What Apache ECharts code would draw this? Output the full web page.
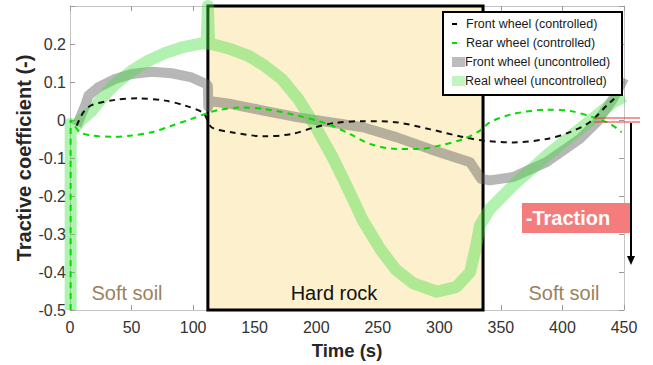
<!DOCTYPE html>
<html>
<head>
<meta charset="utf-8">
<script src="https://cdn.jsdelivr.net/npm/echarts@6/dist/echarts.min.js"></script>
<style>
  html, body { margin: 0; padding: 0; background: #fff; }
  #chart { width: 653px; height: 365px; }
</style>
</head>
<body>
<div id="chart"></div>
<script>
// Time ticks and tractive-coefficient ticks
const timeTicks = [0, 50, 100, 150, 200, 250, 300, 350, 400, 450];
const coeffTicks = [-0.5, -0.4, -0.3, -0.2, -0.1, 0, 0.1, 0.2];

// Terrain segments along the time axis (s)
const terrainNames = ['Soft soil', 'Hard rock', 'Soft soil'];
const hardRockSpan = [112, 335.5];

// Front wheel, controlled
const frontCtrlT = [5.4, 10.8, 17.6, 36.6, 55.5, 77.2, 93.4, 108.3, 115, 131, 158, 180, 199, 215, 238, 265, 292, 319.5, 335.7, 360, 387, 406, 422, 436, 442];
const frontCtrlV = [-0.015, 0.02, 0.039, 0.053, 0.057, 0.051, 0.038, 0.018, -0.019, -0.032, -0.043, -0.037, -0.019, -0.008, -0.003, -0.006, -0.024, -0.045, -0.054, -0.059, -0.05, -0.032, -0.006, 0.038, 0.056];

// Rear wheel, controlled
const rearCtrlT = [0.5, 0.5, 3, 8.1, 17.6, 33.8, 50, 66.4, 82.6, 98.8, 109.7, 120.5, 139.5, 158, 185.5, 209, 227.5, 243.7, 265, 284, 300.6, 319.5, 333, 341, 360, 387, 406, 425, 438.7, 448];
const rearCtrlV = [-0.5, 0, -0.012, -0.032, -0.041, -0.044, -0.041, -0.032, -0.015, 0.003, 0.016, 0.026, 0.033, 0.029, 0.011, -0.01, -0.037, -0.063, -0.076, -0.076, -0.067, -0.05, -0.028, -0.006, 0.016, 0.027, 0.024, 0.007, -0.01, -0.032];

// Front wheel, uncontrolled
const frontFreeT = [5.4, 12.2, 14.9, 23, 36.6, 50, 66.4, 82.6, 98.8, 111, 112, 112.3, 113, 131, 158, 185.5, 211, 238, 265, 292, 325, 327.6, 334, 341, 360, 387, 414, 428, 441, 450];
const frontFreeV = [-0.015, 0.037, 0.064, 0.086, 0.108, 0.121, 0.127, 0.123, 0.112, 0.094, 0.09, 0.035, 0.05, 0.042, 0.024, 0.007, -0.006, -0.019, -0.045, -0.076, -0.111, -0.124, -0.155, -0.159, -0.15, -0.111, -0.05, -0.006, 0.055, 0.11];

// Rear wheel, uncontrolled
const rearFreeT = [0.5, 0.5, 4, 9, 17, 23, 30, 36.6, 50, 63.6, 77, 91, 104, 111, 112, 113, 115, 131, 145, 158, 172, 185.5, 199, 212.6, 223.4, 238, 252, 265, 279, 298, 314, 325, 330, 333, 341, 360, 387, 414, 441, 450];
const rearFreeV = [-0.5, -0.01, -0.02, 0.0, 0.022, 0.046, 0.072, 0.094, 0.129, 0.156, 0.176, 0.191, 0.2, 0.202, 0.3, 0.2, 0.2, 0.186, 0.169, 0.143, 0.108, 0.055, -0.015, -0.094, -0.165, -0.265, -0.34, -0.395, -0.43, -0.452, -0.439, -0.4, -0.33, -0.277, -0.234, -0.172, -0.094, -0.024, 0.046, 0.062];

const legendNames = ['Front wheel (controlled)', 'Rear wheel (controlled)', 'Front wheel (uncontrolled)', 'Real wheel (uncontrolled)'];

function pairs(t, v) { return t.map((x, i) => [x, v[i]]); }

const FONT = 'Arial, "Liberation Sans", sans-serif';
const AXIS_GRAY = '#c4c4c4';

const chart = echarts.init(document.getElementById('chart'), null, { renderer: 'svg' });

const baseX = {
  type: 'value', min: timeTicks[0], max: timeTicks[timeTicks.length - 1],
  interval: timeTicks[1] - timeTicks[0],
  axisLine: { show: true, onZero: false, lineStyle: { color: AXIS_GRAY, width: 1 } },
  axisTick: { show: true, inside: true, length: 5, lineStyle: { color: '#9a9a9a' } },
  splitLine: { show: false }
};
const baseY = {
  type: 'value', min: coeffTicks[0], max: 0.3, interval: 0.1,
  axisLine: { show: true, onZero: false, lineStyle: { color: AXIS_GRAY, width: 1 } },
  axisTick: { show: true, inside: true, length: 5, lineStyle: { color: '#9a9a9a' } },
  splitLine: { show: false }
};

const option = {
  animation: false,
  backgroundColor: '#fff',
  grid: { left: 70, right: 29, top: 6, bottom: 55, containLabel: false },
  xAxis: [
    Object.assign({}, baseX, {
      position: 'bottom',
      axisLabel: { show: true, fontSize: 16, color: '#333', fontFamily: FONT, margin: 9 },
      name: 'Time (s)', nameLocation: 'middle', nameGap: 31, nameMoveOverlap: false,
      nameTextStyle: { fontSize: 18.5, fontWeight: 'bold', color: '#262626', fontFamily: FONT }
    }),
    Object.assign({}, baseX, { position: 'top', axisLabel: { show: false } })
  ],
  yAxis: [
    Object.assign({}, baseY, {
      position: 'left',
      axisLabel: {
        show: true, fontSize: 16, color: '#333', fontFamily: FONT, margin: 4,
        formatter: v => (v > 0.25 ? '' : String(Math.round(v * 10) / 10))
      },
      name: 'Tractive coefficient (-)', nameLocation: 'middle', nameGap: 36, nameMoveOverlap: false,
      nameTextStyle: { fontSize: 20, fontWeight: 'bold', color: '#262626', fontFamily: FONT }
    }),
    Object.assign({}, baseY, { position: 'right', axisLabel: { show: false } })
  ],
  series: [
    {
      // hard rock segment drawn beneath the curves
      type: 'line', data: [], z: 1, silent: true,
      markArea: {
        silent: true,
        itemStyle: { color: '#fdf0cd', borderColor: '#000', borderWidth: 3 },
        data: [[{ xAxis: hardRockSpan[0], yAxis: 0.3 }, { xAxis: hardRockSpan[1], yAxis: coeffTicks[0] }]]
      }
    },
    {
      name: legendNames[2], type: 'line', z: 3, data: pairs(frontFreeT, frontFreeV),
      showSymbol: false, smooth: false,
      lineStyle: { color: 'rgba(95,95,95,0.45)', width: 10, join: 'round' }
    },
    {
      name: legendNames[3], type: 'line', z: 3, data: pairs(rearFreeT, rearFreeV),
      showSymbol: false, smooth: false,
      lineStyle: { color: 'rgba(70,225,70,0.42)', width: 12, join: 'round' }
    },
    {
      name: legendNames[0], type: 'line', z: 4, data: pairs(frontCtrlT, frontCtrlV),
      showSymbol: false, smooth: 0.3,
      lineStyle: { color: '#111', width: 2, type: [6, 5] }
    },
    {
      name: legendNames[1], type: 'line', z: 4, data: pairs(rearCtrlT, rearCtrlV),
      showSymbol: false, smooth: 0.3,
      lineStyle: { color: '#00dd00', width: 2, type: [6, 5] }
    }
  ],
  graphic: [
    // terrain labels
    { type: 'text', x: 127, y: 293, z: 10, style: { text: terrainNames[0], fill: '#9a825c', font: '20px ' + FONT, align: 'center', verticalAlign: 'middle' } },
    { type: 'text', x: 334, y: 293, z: 10, style: { text: terrainNames[1], fill: '#111', font: '20px ' + FONT, align: 'center', verticalAlign: 'middle' } },
    { type: 'text', x: 564, y: 293, z: 10, style: { text: terrainNames[2], fill: '#9a825c', font: '20px ' + FONT, align: 'center', verticalAlign: 'middle' } },

    // legend box
    { type: 'rect', z: 20, shape: { x: 443, y: 12, width: 179, height: 83 }, style: { fill: '#fff', stroke: '#000', lineWidth: 2 } },
    { type: 'rect', z: 21, shape: { x: 452, y: 23, width: 5, height: 2 }, style: { fill: '#000' } },
    { type: 'rect', z: 21, shape: { x: 452, y: 42, width: 5, height: 2 }, style: { fill: '#00dd00' } },
    { type: 'rect', z: 21, shape: { x: 452, y: 57, width: 13, height: 10 }, style: { fill: '#bcbcbc' } },
    { type: 'rect', z: 21, shape: { x: 452, y: 76, width: 13, height: 10 }, style: { fill: '#bff5bf' } },
    { type: 'text', z: 21, x: 466, y: 24, style: { text: legendNames[0], fill: '#1a1a1a', font: '12.5px ' + FONT, verticalAlign: 'middle' } },
    { type: 'text', z: 21, x: 466, y: 43, style: { text: legendNames[1], fill: '#1a1a1a', font: '12.5px ' + FONT, verticalAlign: 'middle' } },
    { type: 'text', z: 21, x: 465, y: 62, style: { text: legendNames[2], fill: '#1a1a1a', font: '12.5px ' + FONT, verticalAlign: 'middle' } },
    { type: 'text', z: 21, x: 465, y: 81, style: { text: legendNames[3], fill: '#1a1a1a', font: '12.5px ' + FONT, verticalAlign: 'middle' } },

    // traction annotation
    { type: 'line', z: 20, shape: { x1: 594, y1: 118, x2: 640, y2: 118 }, style: { stroke: '#e83030', lineWidth: 1 } },
    { type: 'line', z: 20, shape: { x1: 594, y1: 122, x2: 640, y2: 122 }, style: { stroke: '#e83030', lineWidth: 1 } },
    { type: 'rect', z: 20, shape: { x: 522, y: 203, width: 108, height: 30 }, style: { fill: '#f47c7c' } },
    { type: 'text', z: 21, x: 568, y: 218, style: { text: '-Traction', fill: '#fff', font: 'bold 20px ' + FONT, align: 'center', verticalAlign: 'middle' } },
    { type: 'line', z: 21, shape: { x1: 631, y1: 123, x2: 631, y2: 257 }, style: { stroke: '#000', lineWidth: 2 } },
    { type: 'polygon', z: 21, shape: { points: [[627, 256], [635, 256], [631, 265]] }, style: { fill: '#000' } }
  ]
};

chart.setOption(option);
</script>
</body>
</html>
